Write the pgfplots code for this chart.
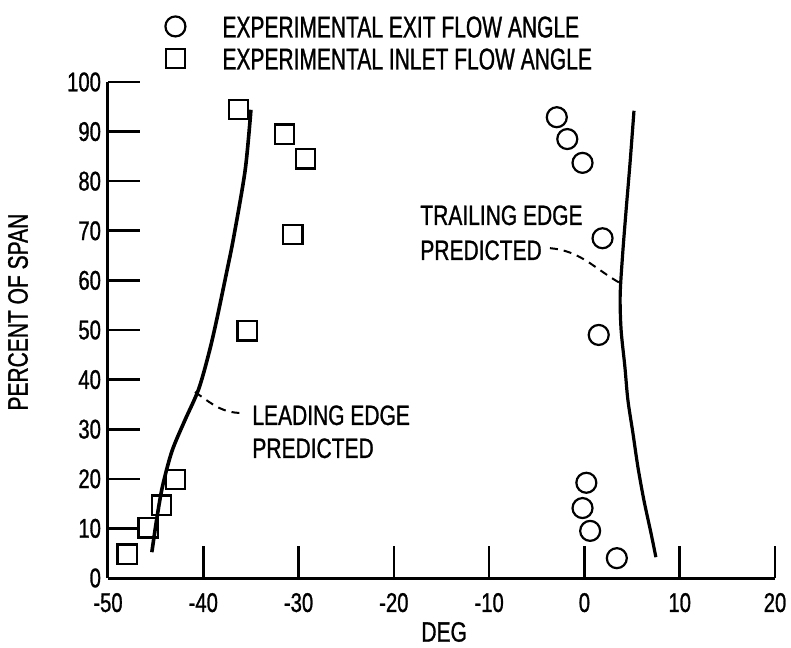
\documentclass[border=0pt]{standalone}
\usepackage{fontspec}
\setmainfont[FakeStretch=0.75, FakeBold=1]{Liberation Sans}
\newfontfamily\legfont[FakeStretch=0.7, FakeBold=1]{Liberation Sans}
\usepackage{pgfplots}
\pgfplotsset{compat=1.18}
\begin{document}
\begin{tikzpicture}
\useasboundingbox (-54pt,-34.5pt) rectangle (341.5pt,289pt);
\begin{axis}[
  at={(0,0)}, anchor=south west,
  scale only axis, width=333.5pt, height=248pt,
  xmin=-50, xmax=20, ymin=0, ymax=100,
  axis lines*=left,
  axis line style={-, line width=1.5pt},
  tick align=inside,
  major tick length=16pt,
  every tick/.style={line width=1.3pt, black},
  xtick={-50,-40,-30,-20,-10,0,10,20},
  xticklabels={-50,-40,-30,-20,-10,0,10,20},
  ytick={0,10,20,30,40,50,60,70,80,90,100},
  yticklabels={0,10,20,30,40,50,60,70,80,90,100},
  tick label style={font=\fontsize{13.5pt}{15pt}\selectfont},
  xticklabel style={yshift=-4pt},
  xlabel={DEG}, ylabel={PERCENT OF SPAN},
  every axis x label/.style={at={(rel axis cs:0.504,0)}, yshift=-27pt, anchor=center, font=\fontsize{14pt}{16pt}\selectfont},
  every axis y label/.style={at={(rel axis cs:0,0.536)}, xshift=-45pt, rotate=90, anchor=center, font=\fontsize{14pt}{16pt}\selectfont},
  clip=false,
  legend style={draw=none, fill=none, at={(rel axis cs:0.0855,1.135)}, anchor=north west,
    font=\legfont\fontsize{15pt}{17pt}\selectfont, row sep=5pt, column sep=18.5pt, inner sep=0pt,
    nodes={inner sep=0pt, text height=11pt, text depth=0pt}},
  legend cell align=left,
  legend image code/.code={\draw[#1] plot coordinates {(0pt,0pt)};},
]
\addplot[only marks, mark=o, mark size=5pt, mark options={line width=1.1pt, black}]
  coordinates {
  (-2.9,92.9) (-1.8,88.5) (-0.2,83.7) (1.9,68.5) (1.5,49.0)
  (0.2,19.2) (-0.2,14.1) (0.6,9.5) (3.4,4.0)
  };
\addlegendentry{EXPERIMENTAL EXIT FLOW ANGLE}
\addplot[only marks, mark=square, mark size=4.8pt, mark options={line width=1.1pt, black, rounded corners=1pt}]
  coordinates {
  (-36.3,94.4) (-31.5,89.5) (-29.3,84.5) (-30.6,69.2) (-35.4,49.8)
  (-42.9,19.8) (-44.4,14.7) (-45.8,10.1) (-48.0,4.8)
  };
\addlegendentry{EXPERIMENTAL INLET FLOW ANGLE}
% leading edge predicted
\addplot[black, line width=1.8pt, smooth, no markers, forget plot] coordinates {
  (-45.4,5.2) (-44.9,11.7) (-44.3,18.3) (-43.3,25.5) (-42.0,31.5) (-40.5,38.0)
  (-39.4,45.4) (-38.6,52.0) (-37.5,62.1) (-36.8,68.8) (-35.6,82.3) (-35.0,94.4)
};
% trailing edge predicted
\addplot[black, line width=1.6pt, smooth, no markers, forget plot] coordinates {
  (5.2,94.2) (4.8,84.0) (4.35,73.6) (4.0,65.0) (3.75,57.0) (3.85,50.0)
  (4.25,42.5) (4.56,35.9) (5.09,29.2) (5.61,22.4) (6.24,15.7) (6.98,9.1) (7.5,4.2)
};
\draw[line width=1pt, dash pattern=on 4pt off 3pt] (axis cs:-40.87,37.5) to[out=-35, in=180] (axis cs:-35.94,33.27);
\draw[line width=1pt, dash pattern=on 4pt off 3pt] (axis cs:-3.62,66.5) to[out=-5, in=150] (axis cs:3.7,59.5);
\node[anchor=north west, inner sep=0pt, align=left, font=\fontsize{14pt}{16.5pt}\selectfont] at (axis cs:-34.89,34.88) {LEADING EDGE\\PREDICTED};
\node[anchor=north west, inner sep=0pt, align=left, font=\fontsize{14pt}{17.5pt}\selectfont] at (axis cs:-17.26,75.2) {TRAILING EDGE\\PREDICTED};
\end{axis}
\end{tikzpicture}
\end{document}
